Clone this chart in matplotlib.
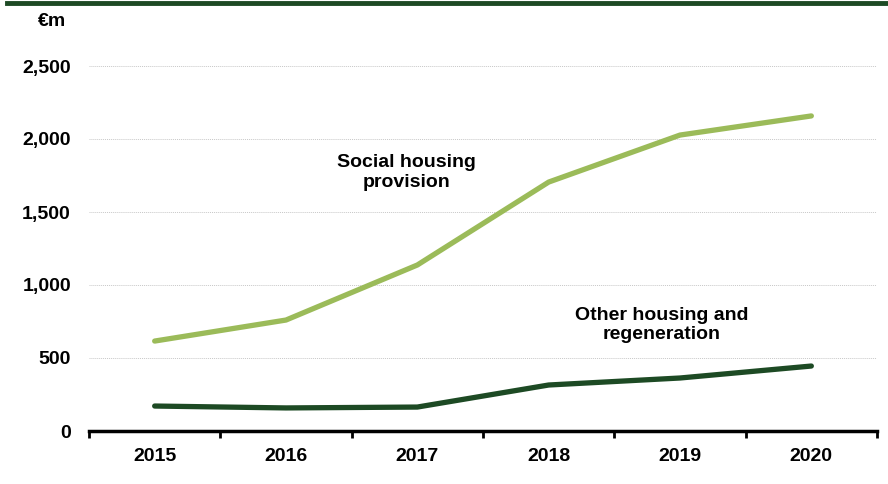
import matplotlib.pyplot as plt
from matplotlib.lines import Line2D

plt.rcParams['font.family'] = ['Liberation Sans', 'DejaVu Sans']
plt.rcParams['font.weight'] = 'bold'

years = ['2015', '2016', '2017', '2018', '2019', '2020']
social = [616, 760, 1137, 1705, 2027, 2158]
other = [171, 158, 164, 315, 363, 445]
yticks = [0, 500, 1000, 1500, 2000, 2500]

light_green = '#9bbb59'
dark_green = '#1d4a24'
fs = 14

fig = plt.figure(figsize=(8.88, 4.84), dpi=100)
ax = fig.add_axes([89/888, 1 - 431/484, (877 - 89)/888, (431 - 66)/484 * 2800/2500])

x = list(range(len(years)))
ax.plot(x, social, color=light_green, lw=3.8, solid_capstyle='round', zorder=3)
ax.plot(x, other, color=dark_green, lw=3.8, solid_capstyle='round', zorder=3)

ax.set_xlim(-0.5, len(years) - 0.5)
ax.set_ylim(0, 2800)
ax.set_yticks(yticks)
ax.set_yticklabels([f'{v:,}' for v in yticks], fontsize=fs, fontweight='bold')
ax.set_xticks(x)
ax.set_xticklabels(years, fontsize=fs, fontweight='bold')
ax.tick_params(axis='x', length=0, pad=12)
ax.tick_params(axis='y', length=0, pad=13)

# category boundary ticks below the axis
ax.set_xticks([i - 0.5 for i in range(len(years) + 1)], minor=True)
ax.tick_params(axis='x', which='minor', length=5, width=2, direction='out')

for s in ['top', 'right', 'left']:
    ax.spines[s].set_visible(False)
ax.spines['bottom'].set_linewidth(2.5)

for v in yticks[1:]:
    ax.axhline(v, color='#c8c8c8', lw=0.7, ls=(0, (1, 1)), zorder=1)

ax.text(1.92, 1770, 'Social housing\nprovision', ha='center', va='center',
        fontsize=fs, fontweight='bold', linespacing=1.2)
ax.text(3.86, 725, 'Other housing and\nregeneration', ha='center', va='center',
        fontsize=fs, fontweight='bold', linespacing=1.2)

fig.text(52/888, 1 - 22/484, '€m', ha='center', va='center', fontsize=fs, fontweight='bold')
fig.add_artist(Line2D([7/888, 1], [1 - 3/484, 1 - 3/484], color=dark_green, lw=3.5,
                      transform=fig.transFigure))

fig.savefig('out.png', dpi=100)
